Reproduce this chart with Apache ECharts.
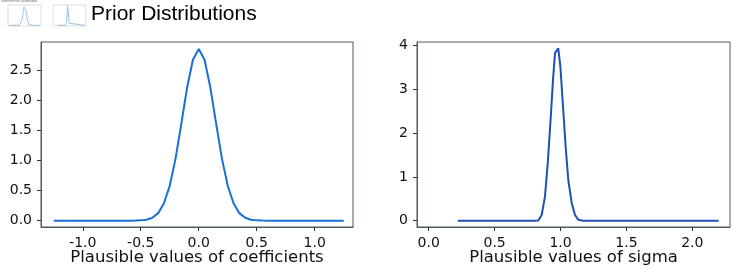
<!DOCTYPE html>
<html>
<head>
<meta charset="utf-8">
<script src="https://cdn.jsdelivr.net/npm/echarts@6/dist/echarts.min.js"></script>
<style>
  html, body { margin: 0; padding: 0; background: #fff; }
  #main { width: 732px; height: 270px; }
</style>
</head>
<body>
<div id="main"></div>
<script>
// prior for the coefficients
const coefX = [-1.25, -1.2, -1.15, -1.1, -1.05, -1.0, -0.95, -0.9, -0.85, -0.8, -0.75, -0.7, -0.65, -0.6,
  -0.55, -0.5, -0.45, -0.4, -0.35, -0.3, -0.25, -0.2, -0.15, -0.1, -0.05, 0,
  0.05, 0.1, 0.15, 0.2, 0.25, 0.3, 0.35, 0.4, 0.45, 0.5, 0.55,
  0.6, 0.65, 0.7, 0.75, 0.8, 0.85, 0.9, 0.95, 1.0, 1.05, 1.1, 1.15, 1.2, 1.25];
const coefY = [0, 0, 0, 0, 0, 0, 0, 0, 0, 0, 0, 0, 0, 0,
  0.001, 0.005, 0.016, 0.048, 0.125, 0.29, 0.58, 1.03, 1.61, 2.21, 2.67, 2.85,
  2.67, 2.21, 1.61, 1.03, 0.58, 0.29, 0.125, 0.048, 0.016, 0.005, 0.001,
  0, 0, 0, 0, 0, 0, 0, 0, 0, 0, 0, 0, 0, 0];

// prior for sigma
const sigmaX = [0.22, 0.80, 0.832, 0.857, 0.882, 0.903, 0.923, 0.943, 0.958, 0.983, 0.999,
  1.019, 1.039, 1.059, 1.085, 1.110, 1.135, 1.17, 2.2];
const sigmaY = [0, 0, 0.005, 0.13, 0.55, 1.31, 2.23, 3.22, 3.83, 3.94, 3.52,
  2.61, 1.69, 0.93, 0.40, 0.13, 0.02, 0, 0];

const coefXTicks = [-1.0, -0.5, 0.0, 0.5, 1.0];
const coefYTicks = [0.0, 0.5, 1.0, 1.5, 2.0, 2.5];
const sigmaXTicks = [0.0, 0.5, 1.0, 1.5, 2.0];
const sigmaYTicks = [0, 1, 2, 3, 4];

const pairs = (xs, ys) => xs.map((x, i) => [x, ys[i]]);

const frame = '#4f5d5d';
const txt = '#111';

function xAxis(idx, min, max, ticks, name, big) {
  return {
    type: 'value', gridIndex: idx, min: min, max: max,
    name: big ? name : '', nameLocation: 'middle', nameGap: 22, nameMoveOverlap: false,
    nameTextStyle: { fontFamily: 'DejaVu Sans', fontSize: 16.5, color: '#111', verticalAlign: 'top' },
    axisLine: { show: big, onZero: false, lineStyle: { color: frame } },
    axisTick: { show: big, customValues: ticks, length: 4, lineStyle: { color: '#333' } },
    axisLabel: { show: big, customValues: ticks, margin: 9, formatter: v => v.toFixed(1),
      fontFamily: 'DejaVu Sans', fontSize: 14, color: txt },
    splitLine: { show: false }
  };
}

function yAxis(idx, min, max, ticks, dec, big) {
  return {
    type: 'value', gridIndex: idx, min: min, max: max,
    axisLine: { show: big, onZero: false, lineStyle: { color: frame } },
    axisTick: { show: big, customValues: ticks, length: 4, lineStyle: { color: '#333' } },
    axisLabel: { show: big, customValues: ticks, margin: 9, formatter: v => v.toFixed(dec),
      fontFamily: 'DejaVu Sans', fontSize: 14, color: txt },
    splitLine: { show: false }
  };
}

const chart = echarts.init(document.getElementById('main'), null, { renderer: 'canvas' });

const gridBase = { outerBoundsMode: 'none', containLabel: false, show: true, backgroundColor: 'transparent' };

chart.setOption({
  animation: false,
  backgroundColor: '#fff',
  title: {
    text: 'Prior Distributions', left: 86, top: -1,
    textStyle: { fontFamily: 'Liberation Sans', fontWeight: 'normal', fontSize: 21, color: '#000' }
  },
  graphic: [
    { type: 'text', left: 1, top: 0, style: { text: 'Selected Prior Distributions', fontSize: 3, fill: '#666' } }
  ],
  grid: [
    Object.assign({ left: 41, top: 42, width: 312, height: 185, borderColor: frame, borderWidth: 1 }, gridBase),
    Object.assign({ left: 417, top: 42, width: 313, height: 185, borderColor: frame, borderWidth: 1 }, gridBase),
    // little thumbnails at the top left
    Object.assign({ left: 8, top: 5, width: 33, height: 21, borderColor: '#bbb', borderWidth: 0.5 }, gridBase),
    Object.assign({ left: 53, top: 5, width: 33, height: 21, borderColor: '#bbb', borderWidth: 0.5 }, gridBase)
  ],
  xAxis: [
    xAxis(0, -1.36, 1.33, coefXTicks, 'Plausible values of coefficients', true),
    xAxis(1, -0.089, 2.286, sigmaXTicks, 'Plausible values of sigma', true),
    xAxis(2, -1.36, 1.33, coefXTicks, '', false),
    xAxis(3, -0.089, 2.286, sigmaXTicks, '', false)
  ],
  yAxis: [
    yAxis(0, -0.105, 2.965, coefYTicks, 1, true),
    yAxis(1, -0.144, 4.085, sigmaYTicks, 0, true),
    yAxis(2, -0.105, 2.965, coefYTicks, 1, false),
    yAxis(3, -0.144, 4.085, sigmaYTicks, 0, false)
  ],
  series: [
    { type: 'line', xAxisIndex: 0, yAxisIndex: 0, data: pairs(coefX, coefY), showSymbol: false,
      lineStyle: { color: '#1a6fd9', width: 2 } },
    { type: 'line', xAxisIndex: 1, yAxisIndex: 1, data: pairs(sigmaX, sigmaY), showSymbol: false,
      lineStyle: { color: '#1f50b5', width: 2 } },
    { type: 'line', xAxisIndex: 2, yAxisIndex: 2, data: pairs(coefX, coefY), showSymbol: false,
      lineStyle: { color: '#7cb6e2', width: 0.8 } },
    { type: 'line', xAxisIndex: 3, yAxisIndex: 3, data: pairs(sigmaX, sigmaY), showSymbol: false,
      lineStyle: { color: '#7cb6e2', width: 0.8 } }
  ]
});
</script>
</body>
</html>
